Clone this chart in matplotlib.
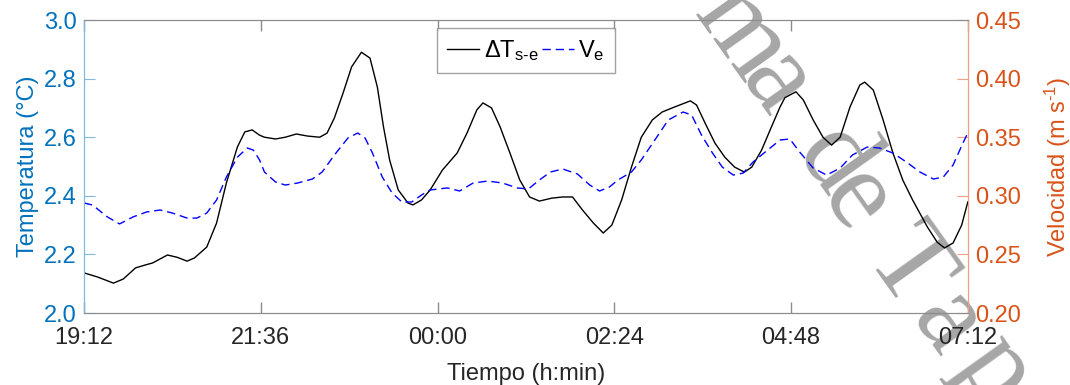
import matplotlib.pyplot as plt

plt.rcParams["font.family"] = ["Liberation Sans", "DejaVu Sans"]
plt.rcParams["mathtext.fontset"] = "custom"
plt.rcParams["mathtext.rm"] = "Liberation Sans"
plt.rcParams["mathtext.it"] = "Liberation Sans"

# minutes since 19:12
t_dT = [0, 11, 24, 32, 42, 50, 56, 68, 76, 84, 90, 100, 108, 116, 125, 131,
        137, 143, 147, 156, 164, 173, 182, 192, 198, 204, 211, 218, 226, 233,
        239, 244, 249, 256, 264, 268, 275, 282, 292, 304, 312, 320, 325, 332,
        339, 347, 355, 363, 371, 381, 390, 398, 406, 415, 423, 430, 438, 446,
        454, 463, 471, 481, 494, 499, 506, 514, 522, 530, 538, 544, 552, 560,
        567, 571, 580, 586, 594, 602, 609, 616, 624, 632, 636, 643, 651, 659,
        667, 675, 687, 695, 701, 708, 715, 720]
dT = [2.137, 2.123, 2.102, 2.116, 2.154, 2.164, 2.171, 2.198, 2.19, 2.177,
      2.188, 2.225, 2.307, 2.444, 2.567, 2.618, 2.625, 2.607, 2.60, 2.594,
      2.60, 2.611, 2.604, 2.60, 2.614, 2.666, 2.75, 2.84, 2.89, 2.87,
      2.771, 2.635, 2.522, 2.42, 2.375, 2.369, 2.386, 2.42, 2.488, 2.546,
      2.614, 2.693, 2.717, 2.70, 2.635, 2.546, 2.454, 2.396, 2.382, 2.392,
      2.396, 2.396, 2.352, 2.307, 2.273, 2.30, 2.386, 2.498, 2.60, 2.659,
      2.686, 2.703, 2.724, 2.71, 2.648, 2.58, 2.532, 2.498, 2.481, 2.498,
      2.556, 2.635, 2.703, 2.735, 2.755, 2.727, 2.659, 2.60, 2.573, 2.60,
      2.703, 2.778, 2.788, 2.761, 2.659, 2.546, 2.454, 2.386, 2.294, 2.242,
      2.222, 2.239, 2.30, 2.379]

t_V = [0, 7, 19, 29, 40, 51, 62, 72, 84, 92, 100, 108, 116, 125, 133, 138,
       143, 147, 156, 164, 174, 186, 194, 204, 215, 223, 229, 235, 243, 251,
       259, 267, 275, 282, 296, 306, 317, 329, 341, 353, 362, 371, 380, 390,
       402, 412, 420, 428, 435, 446, 454, 465, 476, 488, 495, 503, 512, 520,
       529, 537, 545, 555, 567, 575, 583, 594, 605, 616, 626, 638, 648, 659,
       670, 681, 692, 700, 708, 716, 720]
V = [0.2939, 0.2921, 0.282, 0.276, 0.282, 0.2862, 0.2879, 0.2853, 0.281,
     0.281, 0.2853, 0.2964, 0.316, 0.333, 0.3408, 0.339, 0.3306, 0.3203,
     0.3118, 0.3092, 0.3109, 0.3143, 0.3203, 0.3348, 0.3493, 0.3536, 0.3493,
     0.3365, 0.316, 0.3024, 0.2947, 0.2947, 0.3007, 0.305, 0.3067, 0.3041,
     0.3109, 0.3126, 0.3109, 0.3067, 0.3058, 0.3135, 0.3203, 0.3229, 0.3186,
     0.3092, 0.3041, 0.3075, 0.3135, 0.3203, 0.3306, 0.3476, 0.3647, 0.3715,
     0.369, 0.3519, 0.3365, 0.3245, 0.3177, 0.3194, 0.3288, 0.3374, 0.3476,
     0.3485, 0.3374, 0.3237, 0.3177, 0.3237, 0.3348, 0.3416, 0.3408, 0.3365,
     0.3288, 0.3203, 0.3143, 0.316, 0.3263, 0.345, 0.3536]

x_ticks = [0, 144, 288, 432, 576, 720]
x_labels = ["19:12", "21:36", "00:00", "02:24", "04:48", "07:12"]
t_ticks = [2.0, 2.2, 2.4, 2.6, 2.8, 3.0]
v_ticks = [0.20, 0.25, 0.30, 0.35, 0.40, 0.45]

blue = "#0072BD"
orange = "#D95319"
dark = "#262626"
frame = "#8c8c8c"

fig = plt.figure(figsize=(10.7, 3.85), dpi=100)
ax = fig.add_axes([0.0785, 0.187, 0.826, 0.761])
ax2 = ax.twinx()

l1, = ax.plot(t_dT, dT, color="black", linewidth=1.0, zorder=3,
              label=r"ΔT$_{\text{s-e}}$")
l2, = ax2.plot(t_V, V, color="blue", linewidth=1.0, linestyle=(0, (6, 3.5)),
               label=r"V$_{\text{e}}$")

ax.set_xlim(0, 720)
ax.set_ylim(2.0, 3.0)
ax2.set_ylim(0.20, 0.45)
ax.set_xticks(x_ticks)
ax.set_xticklabels(x_labels, fontsize=17, color=dark)
ax.set_yticks(t_ticks)
ax.set_yticklabels([f"{v:.1f}" for v in t_ticks], fontsize=17, color=blue)
ax2.set_yticks(v_ticks)
ax2.set_yticklabels([f"{v:.2f}" for v in v_ticks], fontsize=17, color=orange)

ax.tick_params(axis="x", direction="in", length=8, top=True, width=1,
               color=frame, pad=10)
ax.tick_params(axis="y", direction="in", length=8, color="#7FB9E0", pad=5)
ax2.tick_params(axis="y", direction="in", length=8, color="#F0A080", pad=5)

for a in (ax, ax2):
    a.spines["top"].set_color(frame)
    a.spines["bottom"].set_color(frame)
    a.spines["left"].set_color("#7FB9E0")
    a.spines["right"].set_color("#F0A080")

ax.set_ylabel("Temperatura (°C)", fontsize=17, color=blue, labelpad=4)
ax2.set_ylabel(r"Velocidad (m s$^{\text{-1}}$)", fontsize=17,
               color=orange, labelpad=16)
ax.set_xlabel("Tiempo (h:min)", fontsize=17, color=dark, labelpad=10)

leg = ax2.legend(handles=[l1, l2], loc="upper center", ncol=2, fontsize=17,
                 frameon=True, fancybox=False, edgecolor=frame,
                 handlelength=1.35, handletextpad=0.2, columnspacing=0.15,
                 borderpad=0.42, borderaxespad=0.35)
leg.get_frame().set_linewidth(1.0)

# watermark glyphs, placed one by one (baseline centre in pixels)
wm_chars = ["m", "a", "d", "e", "T", "a", "p"]
wm_px = [(718, 50), (753, 100), (810, 178), (833, 217), (884, 285),
         (924, 340), (972, 387)]
for ch, (px, py) in zip(wm_chars, wm_px):
    ax.text(px / 1070, 1 - py / 385, ch, transform=fig.transFigure,
            rotation=-54.5, rotation_mode="anchor", ha="center",
            va="baseline", fontsize=82, family="Liberation Serif",
            color="#a6a6a6", zorder=1, clip_on=False)

fig.savefig("out.png", dpi=100)
